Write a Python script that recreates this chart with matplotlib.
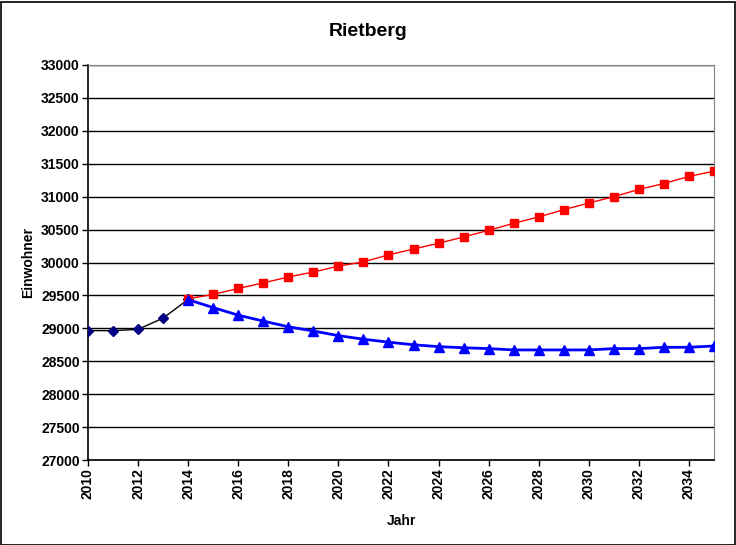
import matplotlib
matplotlib.use("Agg")
import matplotlib.pyplot as plt
from matplotlib.patches import Rectangle

years_hist = [2010, 2011, 2012, 2013, 2014]
pop_hist = [28965, 28965, 28985, 29155, 29440]

years_proj = list(range(2014, 2036))
pop_high = [29450, 29515, 29606, 29690, 29780, 29855, 29945, 30010, 30115, 30205,
            30292, 30388, 30489, 30595, 30692, 30803, 30903, 31000, 31110, 31200,
            31307, 31388]
pop_low = [29435, 29315, 29200, 29110, 29024, 28960, 28889, 28835, 28790, 28750,
           28722, 28705, 28692, 28672, 28672, 28672, 28672, 28692, 28692, 28712,
           28712, 28732]

title = "Rietberg"
xlabel = "Jahr"
ylabel = "Einwohner"
xticks = list(range(2010, 2035, 2))
yticks = list(range(27000, 33001, 500))

plt.rcParams['font.family'] = ['Liberation Sans', 'DejaVu Sans']

fig = plt.figure(figsize=(7.36, 5.45), dpi=100)
ax = fig.add_axes([88/736, 85/545, (714-88)/736, (460-65)/545])

ax.plot(years_hist, pop_hist, color='black', lw=1, marker='D', ms=5.5,
        mfc='#000080', mec='#000080', zorder=3)
ax.plot(years_proj, pop_high, color='#FF0000', lw=1, marker='s', ms=5.5,
        mfc='#FF0000', mec='#FF0000', zorder=4)
ax.plot(years_proj, pop_low, color='#0000FF', lw=2.0, marker='^', ms=6.5,
        mfc='#0000FF', mec='#0000FF', zorder=5)

ax.set_xlim(2010, 2035)
ax.set_ylim(27000, 33000)
ax.set_xticks(xticks)
ax.set_xticklabels([str(x) for x in xticks], rotation=90, fontsize=10, fontweight='bold')
ax.set_yticks(yticks)
ax.set_yticklabels([str(y) for y in yticks], fontsize=10, fontweight='bold')
ax.tick_params(direction='out', length=4, width=1, color='black', pad=2)

ax.grid(axis='y', color='black', lw=1, zorder=1)
ax.set_axisbelow(True)
for s in ['top', 'right']:
    ax.spines[s].set_color('#808080')
for s in ['left', 'bottom']:
    ax.spines[s].set_color('black')
    ax.spines[s].set_linewidth(1.2)

ax.set_xlabel(xlabel, fontsize=10, fontweight='bold', labelpad=11)
ax.set_ylabel(ylabel, fontsize=10, fontweight='bold', labelpad=4)
fig.text(0.5, 1 - 31/545, title, ha='center', va='center', fontsize=14, fontweight='bold')

fig.patches.append(Rectangle((0.5/736, 0.5/545), 1 - 2/736, 1 - 2/545, transform=fig.transFigure,
                             fill=False, ec='black', lw=1.2))

fig.savefig('out.png', dpi=100)
